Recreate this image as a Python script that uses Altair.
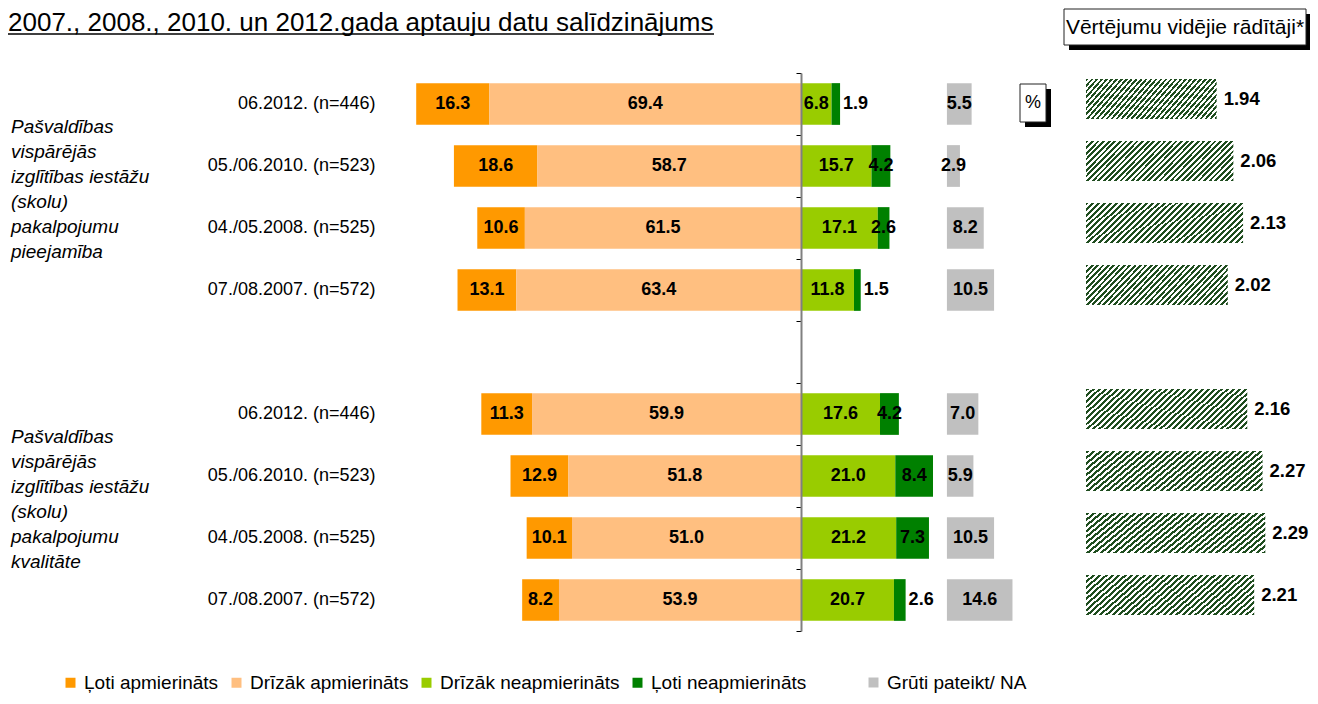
import altair as alt
import pandas as pd

FONT = "Liberation Sans, Arial, sans-serif"

# ---------------- data ----------------
title_text = "2007., 2008., 2010. un 2012.gada aptauju datu salīdzinājums"
box_text = "Vērtējumu vidējie rādītāji*"
pct_text = "%"

periods = ["06.2012. (n=446)", "05./06.2010. (n=523)",
           "04./05.2008. (n=525)", "07./08.2007. (n=572)"]
group_labels = [
    "Pašvaldības\nvispārējās\nizglītības iestāžu\n(skolu)\npakalpojumu\npieejamība",
    "Pašvaldības\nvispārējās\nizglītības iestāžu\n(skolu)\npakalpojumu\nkvalitāte",
]
categories = ["Ļoti apmierināts", "Drīzāk apmierināts", "Drīzāk neapmierināts",
              "Ļoti neapmierināts"]
colors = ["#FF9900", "#FFBF80", "#99CC00", "#008000"]
na_category = "Grūti pateikt/ NA"
na_color = "#C0C0C0"

very_sat = [16.3, 18.6, 10.6, 13.1, 11.3, 12.9, 10.1, 8.2]
rather_sat = [69.4, 58.7, 61.5, 63.4, 59.9, 51.8, 51.0, 53.9]
rather_dis = [6.8, 15.7, 17.1, 11.8, 17.6, 21.0, 21.2, 20.7]
very_dis = [1.9, 4.2, 2.6, 1.5, 4.2, 8.4, 7.3, 2.6]
hard_na = [5.5, 2.9, 8.2, 10.5, 7.0, 5.9, 10.5, 14.6]
means = [1.94, 2.06, 2.13, 2.02, 2.16, 2.27, 2.29, 2.21]
label_outside = [True, False, False, True, False, False, False, True]

# ---------------- layout constants ----------------
ZERO_PX = 793.0      # x of the 0 % line inside the view
PX_PER = 4.49        # pixels per percentage point
NA_OFFSET = 32.5     # gray bars start this many % units right of zero
MEAN_PX0 = 1078.0    # x where the mean scale (value 1) starts
MEAN_PX_PER = 139.0  # pixels per mean unit
W, H = 1302, 688

keys = [f"{g + 1}|{p}" for g in range(2) for p in periods]
row_domain = keys[:4] + ["gap|"] + keys[4:]

recs = []
for i, k in enumerate(keys):
    a, b, c, d, na = very_sat[i], rather_sat[i], rather_dis[i], very_dis[i], hard_na[i]
    segs = [(categories[0], -(a + b), -b, a),
            (categories[1], -b, 0.0, b),
            (categories[2], 0.0, c, c),
            (categories[3], c, c + d, d),
            (na_category, NA_OFFSET, NA_OFFSET + na, na)]
    for j, (cat, x0, x1, v) in enumerate(segs):
        recs.append(dict(key=k, cat=cat, x0=x0, x1=x1, mid=(x0 + x1) / 2, val=v,
                         is_na=bool(j == 4),
                         outside=bool(j == 3 and label_outside[i])))
seg_df = pd.DataFrame(recs)
mean_df = pd.DataFrame({"key": keys, "mean": means})
grp_df = pd.DataFrame({"anchor": [keys[0], keys[4]], "label": group_labels})
one = pd.DataFrame({"a": [0]})

# ---------------- scales / axes ----------------
pct_dom = [-100, 70]
xs_pct = alt.Scale(domain=pct_dom, range=[ZERO_PX + pct_dom[0] * PX_PER, ZERO_PX + pct_dom[1] * PX_PER],
                   nice=False, zero=False)
mean_dom = [1, 2.5]
xs_mean = alt.Scale(domain=mean_dom,
                    range=[MEAN_PX0, MEAN_PX0 + (mean_dom[1] - mean_dom[0]) * MEAN_PX_PER],
                    nice=False, zero=False)
ys = alt.Scale(domain=row_domain, range=[65, 623], paddingInner=0, paddingOuter=0)

label_axis = alt.Axis(orient="left", offset=-367, title=None, domain=False, ticks=False,
                      tickSize=0, labelPadding=0, labelAlign="right", labelBaseline="middle",
                      labelFont=FONT, labelFontSize=18, labelColor="black", labelLimit=400,
                      labelExpr="split(datum.label, '|')[1]", grid=False)
zero_axis = alt.Axis(orient="left", offset=-ZERO_PX, title=None, labels=False, ticks=True,
                     tickBand="extent", tickSize=5, tickColor="black", tickWidth=1,
                     domain=True, domainColor="#808080", domainWidth=2, grid=False, zindex=1)

legend_common = dict(orient="none", legendY=665, direction="horizontal",
                     symbolType="square", symbolSize=100, symbolStrokeWidth=0,
                     labelFont=FONT, labelFontSize=19, labelColor="black", labelOffset=4,
                     columnPadding=8, title=None, labelLimit=400)
legend_main = alt.Legend(legendX=53, **legend_common)
legend_na = alt.Legend(legendX=856, **legend_common)

# hatch gradient
N = 34
stops = []
for i in range(N):
    o0, o1, o2 = i / N, (i + 0.5) / N, (i + 1) / N
    stops += [{"offset": o0, "color": "#1f4d1f"}, {"offset": o1, "color": "#1f4d1f"},
              {"offset": o1, "color": "#ffffff"}, {"offset": min(o2, 1.0), "color": "#ffffff"}]
GRAD = {"gradient": "linear", "x1": 0, "y1": 0, "x2": 1.2, "y2": 0.32, "stops": stops}

# ---------------- layers ----------------
bars = alt.Chart(seg_df).transform_filter("!datum.is_na").mark_bar(
    height={"band": 0.673}, strokeWidth=0).encode(
    x=alt.X("x0:Q", scale=xs_pct, axis=None),
    x2="x1:Q",
    y=alt.Y("key:N", scale=ys, axis=label_axis),
    color=alt.Color("cat:N", scale=alt.Scale(domain=categories, range=colors), legend=legend_main),
)

na_bars = alt.Chart(seg_df).transform_filter("datum.is_na").mark_bar(
    height={"band": 0.673}, strokeWidth=0).encode(
    x=alt.X("x0:Q", scale=xs_pct, axis=None),
    x2="x1:Q",
    y=alt.Y("key:N", scale=ys, axis=None),
    fill=alt.Fill("cat:N", scale=alt.Scale(domain=[na_category], range=[na_color]), legend=legend_na),
)

txt_in = alt.Chart(seg_df).transform_filter("!datum.outside").mark_text(
    font=FONT, fontSize=18, fontWeight="bold", color="black", align="center", baseline="middle"
).encode(
    x=alt.X("mid:Q", scale=xs_pct, axis=None),
    y=alt.Y("key:N", scale=ys, axis=zero_axis),
    text=alt.Text("val:Q", format=".1f"),
)

txt_out = alt.Chart(seg_df).transform_filter("datum.outside").mark_text(
    font=FONT, fontSize=18, fontWeight="bold", color="black", align="left", baseline="middle", dx=3
).encode(
    x=alt.X("x1:Q", scale=xs_pct, axis=None),
    y=alt.Y("key:N", scale=ys, axis=None),
    text=alt.Text("val:Q", format=".1f"),
)

hatch = alt.Chart(mean_df).mark_bar(height={"band": 0.645}, yOffset=-5, fill=GRAD,
                                    strokeWidth=0).encode(
    x=alt.X("mean:Q", scale=xs_mean, axis=None),
    x2=alt.datum(1),
    y=alt.Y("key:N", scale=ys, axis=None),
)

hatch_txt = alt.Chart(mean_df).mark_text(
    font=FONT, fontSize=18.5, fontWeight="bold", color="black", align="left", baseline="middle",
    dx=7, dy=-5
).encode(
    x=alt.X("mean:Q", scale=xs_mean, axis=None),
    y=alt.Y("key:N", scale=ys, axis=None),
    text=alt.Text("mean:Q", format=".2f"),
)

grp_txt = alt.Chart(grp_df).mark_text(
    font=FONT, fontSize=19, fontStyle="italic", color="black", align="left", baseline="middle",
    lineBreak="\n", lineHeight=25, dy=-8
).encode(
    x=alt.value(3),
    y=alt.Y("anchor:N", scale=ys, axis=None, bandPosition=1),
    text="label:N",
)

title = alt.Chart(one).mark_text(
    text=title_text, font=FONT, fontSize=26, color="black", align="left", baseline="alphabetic"
).encode(x=alt.value(0), y=alt.value(23))
underline = alt.Chart(one).mark_rule(color="black", strokeWidth=1.5).encode(
    x=alt.value(0), x2=alt.value(706), y=alt.value(26))

box_sh = alt.Chart(one).mark_rect(color="black").encode(
    x=alt.value(1061), x2=alt.value(1302), y=alt.value(6), y2=alt.value(42))
box = alt.Chart(one).mark_rect(fill="white", stroke="#222222", strokeWidth=1).encode(
    x=alt.value(1056), x2=alt.value(1298), y=alt.value(1), y2=alt.value(37))
box_txt = alt.Chart(one).mark_text(
    text=box_text, font=FONT, fontSize=21, color="black", align="center", baseline="middle"
).encode(x=alt.value(1177), y=alt.value(20))

pct_sh = alt.Chart(one).mark_rect(color="black").encode(
    x=alt.value(1017), x2=alt.value(1043), y=alt.value(81), y2=alt.value(119))
pct_box = alt.Chart(one).mark_rect(fill="white", stroke="#222222", strokeWidth=1).encode(
    x=alt.value(1012), x2=alt.value(1038), y=alt.value(76), y2=alt.value(114))
pct_txt = alt.Chart(one).mark_text(
    text=pct_text, font=FONT, fontSize=18, color="black", align="center", baseline="middle"
).encode(x=alt.value(1025), y=alt.value(95))

chart = alt.layer(
    bars, na_bars, txt_in, txt_out, hatch, hatch_txt, grp_txt, title, underline,
    box_sh, box, box_txt, pct_sh, pct_box, pct_txt
).resolve_scale(x="independent").resolve_axis(y="independent").properties(
    width=W, height=H, padding=0,
    autosize=alt.AutoSizeParams(type="none"),
    background="white",
).configure_view(strokeWidth=0)

chart.save("out.html", embed_options={"renderer": "svg", "actions": False})
